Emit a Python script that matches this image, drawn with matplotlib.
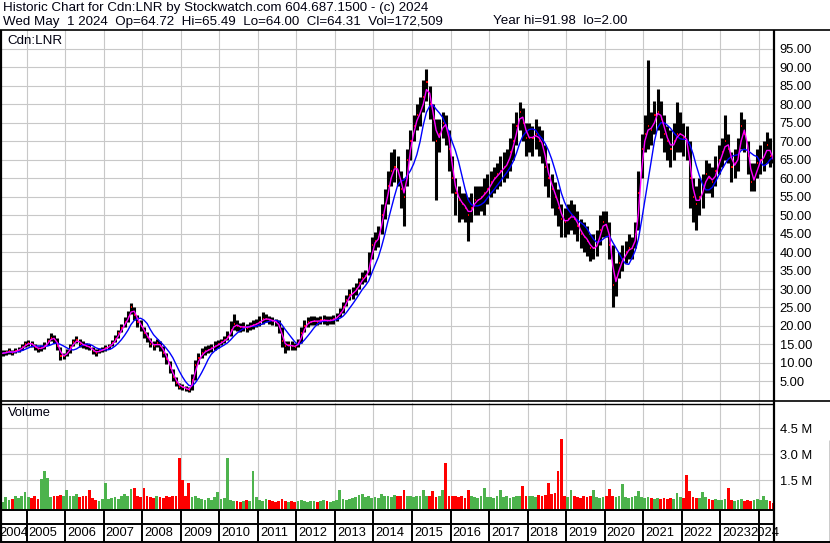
import matplotlib
matplotlib.use("Agg")
import matplotlib.pyplot as plt
import matplotlib.transforms as mtransforms
import numpy as np
import pandas as pd

plt.rcParams['font.family'] = ['Liberation Sans', 'DejaVu Sans']

# ---------------- data ----------------
title_line1 = "Historic Chart for Cdn:LNR by Stockwatch.com 604.687.1500 - (c) 2024"
title_line2a = "Wed May  1 2024  Op=64.72  Hi=65.49  Lo=64.00  Cl=64.31  Vol=172,509"
title_line2b = "Year hi=91.98  lo=2.00"
symbol_label = "Cdn:LNR"
volume_label = "Volume"

months = pd.date_range("2004-05-01", "2024-05-01", freq="MS")

close = [
    12.6, 12.9, 13.1, 12.8, 13.3, 13.6, 14.2, 15.0,
    15.4, 15.0, 14.2, 13.8, 14.0, 14.6, 15.8, 16.8, 16.5, 14.5, 11.8, 12.0,
    12.8, 14.3, 15.6, 16.2, 15.2, 14.8, 14.5, 14.2, 13.2, 12.8, 13.3, 13.6,
    14.0, 14.5, 15.3, 16.5, 18.0, 19.5, 21.0, 22.5, 25.0, 23.0, 21.0, 20.0,
    18.0, 17.0, 15.2, 14.6, 15.3, 14.6, 12.8, 11.0, 8.5, 6.3, 4.6, 3.6,
    3.4, 3.0, 2.6, 5.4, 9.5, 11.2, 12.6, 13.2, 13.6, 14.0, 14.6, 15.0,
    15.6, 16.2, 17.0, 19.0, 20.5, 20.0, 19.6, 19.8, 19.5, 20.0, 20.3, 20.6,
    21.2, 21.8, 22.0, 21.6, 21.4, 21.0, 19.8, 16.0, 14.5, 14.8, 14.6, 14.4,
    15.5, 18.0, 20.0, 21.0, 21.2, 21.4, 21.2, 21.5, 21.6, 21.4, 21.5, 21.8,
    22.5, 23.5, 25.0, 27.0, 28.5, 29.0, 30.0, 31.5, 33.0, 33.5, 36.0, 42.0,
    43.0, 44.0, 50.0, 53.0, 58.0, 62.0, 63.0, 62.0, 57.0, 55.0, 65.0, 70.0,
    74.0, 77.0, 78.0, 82.0, 86.0, 80.0, 76.0, 70.0, 72.0, 75.0, 74.0, 68.0,
    60.0, 56.0, 54.0, 53.0, 52.0, 50.0, 52.0, 54.0, 54.0, 55.0, 56.0, 57.0,
    59.0, 60.0, 61.0, 62.0, 63.0, 64.0, 67.0, 70.0, 74.0, 78.0, 75.0, 71.0,
    71.0, 71.0, 72.0, 70.0, 69.0, 63.0, 60.0, 57.0, 55.0, 52.0, 49.0, 48.0,
    49.0, 50.0, 49.0, 47.0, 45.0, 44.0, 43.0, 41.0, 41.0, 42.0, 46.0, 48.0,
    47.0, 42.0, 31.0, 33.0, 37.0, 38.0, 40.0, 41.0, 41.0, 45.0, 56.0, 68.0,
    72.0, 74.0, 73.0, 77.0, 78.0, 76.0, 72.0, 70.0, 68.0, 70.0, 72.0, 72.0,
    71.0, 70.0, 60.0, 55.0, 53.0, 55.0, 57.0, 61.0, 60.0, 59.0, 62.0, 65.0,
    67.0, 70.0, 68.0, 63.0, 64.0, 66.0, 74.0, 72.0, 66.0, 59.0, 60.0, 64.0,
    65.0, 66.0, 69.0, 66.0, 64.31,
]

high = [
    13.5, 13.6, 13.9, 13.6, 14.0, 14.4, 15.0, 15.8,
    16.2, 16.0, 15.2, 14.6, 14.8, 15.6, 16.8, 18.2, 17.6, 16.8, 14.2, 12.8,
    13.8, 15.2, 16.4, 17.4, 16.4, 15.8, 15.4, 15.0, 14.4, 13.8, 14.0, 14.4,
    14.8, 15.2, 16.2, 17.6, 19.0, 20.6, 22.4, 24.0, 26.3, 25.0, 23.0, 21.6,
    19.6, 18.4, 16.8, 15.8, 16.6, 16.0, 14.6, 12.8, 10.6, 8.4, 6.2, 4.6,
    4.2, 3.8, 3.6, 7.0, 10.8, 12.6, 14.0, 14.6, 14.8, 15.2, 15.8, 16.2,
    16.6, 17.2, 18.6, 21.4, 23.2, 21.6, 20.8, 21.0, 20.6, 21.0, 21.6, 22.0,
    22.6, 23.8, 23.2, 22.6, 22.4, 22.0, 21.6, 19.6, 16.0, 16.0, 15.8, 15.4,
    16.6, 19.6, 21.5, 22.4, 22.6, 22.6, 22.4, 22.8, 23.0, 22.8, 22.8, 23.0,
    23.6, 24.8, 26.4, 28.4, 30.0, 30.6, 31.6, 33.0, 34.6, 35.2, 40.0, 44.0,
    45.5, 47.0, 53.0, 57.0, 62.0, 67.0, 67.8, 66.0, 62.0, 60.0, 68.0, 73.0,
    77.0, 80.0, 82.0, 86.5, 89.5, 85.0, 80.0, 76.0, 76.0, 78.0, 77.0, 73.0,
    66.0, 60.0, 58.0, 56.0, 56.0, 55.0, 56.0, 58.0, 58.0, 58.0, 60.0, 61.0,
    62.0, 63.0, 64.0, 66.0, 67.0, 68.0, 71.0, 75.0, 78.0, 80.5, 79.0, 75.0,
    75.0, 74.0, 76.0, 74.0, 73.0, 69.0, 64.0, 61.0, 59.0, 57.0, 53.0, 52.0,
    53.0, 54.0, 53.0, 51.0, 49.0, 48.0, 47.0, 45.0, 45.0, 46.0, 50.0, 51.0,
    51.0, 48.0, 42.0, 37.0, 40.0, 42.0, 43.0, 45.0, 44.0, 48.0, 62.0, 72.0,
    77.0, 91.98, 78.0, 81.0, 84.0, 81.0, 77.0, 74.0, 73.0, 75.0, 80.5, 78.0,
    75.0, 74.0, 70.0, 60.0, 58.0, 60.0, 61.0, 65.0, 64.0, 63.0, 66.0, 69.0,
    71.0, 77.0, 72.0, 67.0, 68.0, 71.0, 78.0, 76.0, 70.0, 64.0, 64.0, 68.0,
    69.0, 70.0, 72.5, 71.0, 65.49,
]

low = [
    12.0, 12.2, 12.5, 12.2, 12.6, 13.0, 13.6, 14.3,
    14.6, 14.2, 13.4, 13.0, 13.2, 13.8, 14.8, 15.8, 15.4, 13.6, 10.8, 11.0,
    11.8, 12.8, 14.6, 15.4, 14.4, 14.0, 13.8, 13.4, 12.4, 12.0, 12.6, 13.0,
    13.3, 13.8, 14.5, 15.6, 16.8, 18.4, 19.8, 21.0, 23.2, 21.6, 19.6, 18.6,
    16.8, 15.6, 14.2, 13.6, 14.4, 13.2, 11.6, 9.8, 7.2, 5.2, 3.8, 3.0,
    2.8, 2.4, 2.0, 2.8, 5.4, 9.6, 11.4, 12.2, 12.6, 13.0, 13.6, 14.0,
    14.8, 15.4, 16.2, 17.2, 19.0, 18.6, 18.4, 18.6, 18.4, 19.0, 19.3, 19.6,
    20.0, 20.6, 21.0, 20.6, 20.2, 20.0, 18.2, 14.2, 12.6, 13.6, 13.6, 13.6,
    14.2, 15.4, 18.4, 19.8, 20.2, 20.2, 20.2, 20.4, 20.6, 20.3, 20.6, 20.6,
    21.4, 22.4, 23.6, 25.4, 27.0, 27.4, 28.4, 30.0, 31.4, 32.0, 33.8, 38.0,
    40.5, 41.5, 45.0, 49.0, 53.0, 58.0, 59.0, 58.0, 52.0, 47.0, 58.0, 65.0,
    70.0, 73.0, 74.0, 78.0, 81.0, 76.0, 70.0, 54.0, 67.0, 71.0, 69.0, 62.0,
    56.0, 50.0, 48.0, 49.0, 48.0, 43.0, 48.0, 50.0, 50.0, 51.0, 50.0, 53.0,
    55.0, 56.0, 57.0, 58.0, 59.0, 60.0, 62.0, 65.0, 69.0, 73.0, 70.0, 66.0,
    67.0, 66.0, 68.0, 66.0, 64.0, 58.0, 55.0, 52.0, 50.0, 47.0, 44.0, 44.0,
    45.0, 46.0, 45.0, 43.0, 41.0, 40.0, 39.0, 37.5, 38.0, 39.0, 42.0, 44.0,
    44.0, 38.0, 25.0, 28.0, 33.0, 35.0, 37.0, 38.0, 38.0, 41.0, 46.0, 60.0,
    67.0, 68.0, 69.0, 72.0, 73.0, 71.0, 67.0, 65.0, 63.0, 65.0, 67.0, 67.0,
    66.0, 65.0, 52.0, 48.0, 46.0, 50.0, 52.0, 56.0, 56.0, 55.0, 58.0, 61.0,
    63.0, 65.0, 64.0, 59.0, 60.0, 62.0, 68.0, 67.0, 61.0, 56.5, 56.5, 60.0,
    61.0, 62.0, 64.0, 63.0, 64.0,
]

volume_m = [
    0.25, 0.5, 0.35, 0.4, 0.55, 0.45, 0.6, 0.8,
    0.5, 0.45, 0.55, 0.4, 1.55, 2.0, 1.6, 0.5, 0.6, 0.55, 0.65, 0.55,
    0.95, 0.55, 0.6, 0.7, 0.5, 0.55, 0.6, 0.95, 0.45, 0.35, 0.3, 0.4,
    1.35, 0.4, 0.45, 0.5, 0.4, 0.55, 0.7, 0.6, 1.0, 1.05, 0.6, 0.5,
    1.05, 0.6, 0.5, 0.45, 0.55, 0.5, 0.45, 0.6, 0.5, 0.55, 0.6, 2.8,
    1.5, 0.6, 1.3, 0.5, 0.55, 0.45, 0.4, 0.35, 0.45, 0.35, 0.5, 0.8,
    0.4, 0.45, 2.75, 0.35, 0.3, 0.3, 0.25, 0.3, 0.35, 0.3, 2.0, 0.5,
    0.35, 0.3, 0.4, 0.35, 0.3, 0.25, 0.3, 0.4, 0.3, 0.25, 0.3, 0.25,
    0.3, 0.35, 0.3, 0.25, 0.3, 0.3, 0.25, 0.3, 0.35, 0.3, 0.25, 0.3,
    0.35, 0.95, 0.4, 0.35, 0.4, 0.45, 0.5, 0.65, 0.7, 0.5, 0.55, 0.45,
    0.5, 0.45, 0.7, 0.55, 0.6, 0.5, 0.65, 0.55, 0.6, 0.9, 0.6, 0.55,
    0.5, 0.6, 0.55, 0.95, 0.6, 0.55, 0.85, 0.5, 0.55, 0.9, 2.5, 0.6,
    0.55, 0.6, 0.5, 0.55, 0.45, 0.9, 0.55, 0.5, 0.45, 0.55, 1.05, 0.5,
    0.5, 0.45, 0.55, 0.95, 0.5, 0.55, 0.45, 0.5, 0.6, 0.55, 1.15, 0.6,
    0.55, 0.6, 0.5, 0.65, 0.6, 0.65, 1.35, 0.7, 0.75, 2.0, 3.9, 0.6,
    0.5, 0.9, 0.55, 0.5, 0.45, 0.55, 0.5, 0.6, 0.95, 0.5, 0.45, 0.5,
    0.55, 1.0, 0.6, 0.5, 0.55, 1.25, 0.5, 0.45, 0.5, 0.55, 0.85, 0.5,
    0.45, 0.5, 0.45, 0.4, 0.45, 0.4, 0.45, 0.4, 0.45, 0.4, 0.75, 0.5,
    0.45, 1.8, 0.85, 0.5, 0.45, 0.45, 0.8, 0.5, 0.4, 0.35, 0.4, 0.35,
    0.35, 0.4, 1.05, 0.35, 0.3, 0.35, 0.4, 0.3, 0.35, 0.3, 0.35, 0.4,
    0.35, 0.55, 0.35, 0.3, 0.17,
]

price_ticks = [5, 10, 15, 20, 25, 30, 35, 40, 45, 50, 55, 60, 65, 70, 75, 80, 85, 90, 95]
volume_ticks = [1.5, 3.0, 4.5]
volume_tick_labels = ["1.5 M", "3.0 M", "4.5 M"]
year_labels = list(range(2004, 2025))

# ---------------- helpers ----------------
t = np.array([d.year + (d.month - 1) / 12 + 1 / 24 for d in months])
close_a = np.array(close)
high_a = np.array(high)
low_a = np.array(low)
vol_a = np.array(volume_m)
ma_short = pd.Series(close_a).rolling(2, min_periods=1).mean().values
ma_long = pd.Series(close_a).rolling(6, min_periods=1).mean().values
diff = np.diff(close_a, prepend=close_a[0])
vol_colors = np.where(diff >= 0, '#4db34d', '#ff0000')

W, H = 830, 543
XL = (2004.307, 2024.395)
GRID = '#c8c8c8'
FS = 9.3

fig = plt.figure(figsize=(W / 100, H / 100), dpi=100)
fig.patch.set_facecolor('white')

def box(x0, y0, x1, y1):
    return [x0 / W, 1 - y1 / H, (x1 - x0) / W, (y1 - y0) / H]

def shift(px):
    return mtransforms.ScaledTranslation(px / 100, 0, fig.dpi_scale_trans)

# ---------------- price panel ----------------
ax = fig.add_axes(box(0, 29.5, 774, 401))
ax.set_xlim(*XL)
ax.set_ylim(-0.31, 100.23)
for yv in price_ticks:
    ax.axhline(yv, color=GRID, lw=0.8, zorder=0)
for yr in year_labels[1:]:
    ax.axvline(yr, color=GRID, lw=0.8, zorder=0)
ax.vlines(t, low_a, high_a, color='black', lw=2.2, zorder=2)
ax.hlines(close_a, t, t + 0.03, color='red', lw=1.4, zorder=3)
ax.plot(t, ma_long, color='#0000ff', lw=1.0, zorder=4)
ax.plot(t, ma_short, color='#ff00ff', lw=1.0, zorder=5)
ax.yaxis.tick_right()
ax.set_yticks(price_ticks)
ax.set_yticklabels([f"{v:.2f}" for v in price_ticks], fontsize=FS)
ax.tick_params(axis='y', length=0, pad=4)
ax.set_xticks([])
for s in ax.spines.values():
    s.set_visible(False)

# ---------------- volume panel ----------------
axv = fig.add_axes(box(0, 403.3, 774, 509.5))
axv.set_xlim(*XL)
vbot = -0.21
axv.set_ylim(vbot, 5.95)
for yv in volume_ticks:
    axv.axhline(yv, color=GRID, lw=0.8, zorder=0)
for yr in year_labels[1:]:
    axv.axvline(yr, color=GRID, lw=0.8, zorder=0)
axv.bar(t, vol_a - vbot, bottom=vbot, width=0.072, color=vol_colors, lw=0, zorder=2)
axv.yaxis.tick_right()
axv.set_yticks(volume_ticks)
axv.set_yticklabels(volume_tick_labels, fontsize=FS)
axv.tick_params(axis='y', length=0, pad=4)
axv.set_xticks([])
for s in axv.spines.values():
    s.set_visible(False)

# ---------------- year row ----------------
axy = fig.add_axes(box(0, 509.5, 774, 542))
axy.set_xlim(*XL)
axy.set_ylim(0, 1)
axy.axis('off')
row_split = (542 - 523.5) / (542 - 509.5)
axy.axhline(row_split, color='black', lw=1.4)
for yr in year_labels[1:]:
    axy.axvline(yr, color='black', lw=1.4)
for yr in year_labels:
    if yr == year_labels[0]:
        axy.text(XL[0], 0.27, str(yr), ha='left', va='center', fontsize=FS,
                 transform=axy.transData + shift(-1))
    elif yr == year_labels[-1]:
        axy.text(XL[1], 0.27, str(yr), ha='right', va='center', fontsize=FS, clip_on=False,
                 transform=axy.transData + shift(5))
    else:
        axy.text(yr, 0.27, str(yr), ha='left', va='center', fontsize=FS,
                 transform=axy.transData + shift(2))

# ---------------- frame & header ----------------
ov = fig.add_axes([0, 0, 1, 1], zorder=10)
ov.set_xlim(0, W)
ov.set_ylim(H, 0)
ov.axis('off')
ov.patch.set_alpha(0)
k = dict(color='black', solid_capstyle='butt')
ov.plot([0, W], [29.5, 29.5], lw=1.2, **k)
ov.plot([0, W], [401, 401], lw=1.2, **k)
ov.plot([0, 774], [403.5, 403.5], lw=1.0, **k)
ov.plot([0, 774], [509.5, 509.5], lw=1.4, **k)
ov.plot([0, W], [542, 542], lw=1.4, **k)
ov.plot([1, 1], [29.5, 542], lw=1.6, **k)
ov.plot([774, 774], [29.5, 542], lw=1.6, **k)
ov.plot([829.5, 829.5], [440, 542], lw=1.0, **k)

ov.text(3, 8.5, title_line1, fontsize=9.6, va='center', ha='left', color='#000010')
ov.text(3, 21.5, title_line2a, fontsize=9.6, va='center', ha='left', color='#000010')
ov.text(627, 21.5, title_line2b, fontsize=9.6, va='center', ha='right', color='#000010')
ov.text(7, 41, symbol_label, fontsize=9.6, va='center', ha='left', color='#000010')
ov.text(8, 413, volume_label, fontsize=9.3, va='center', ha='left', color='#000010')

fig.savefig("out.png", dpi=100, facecolor='white')
